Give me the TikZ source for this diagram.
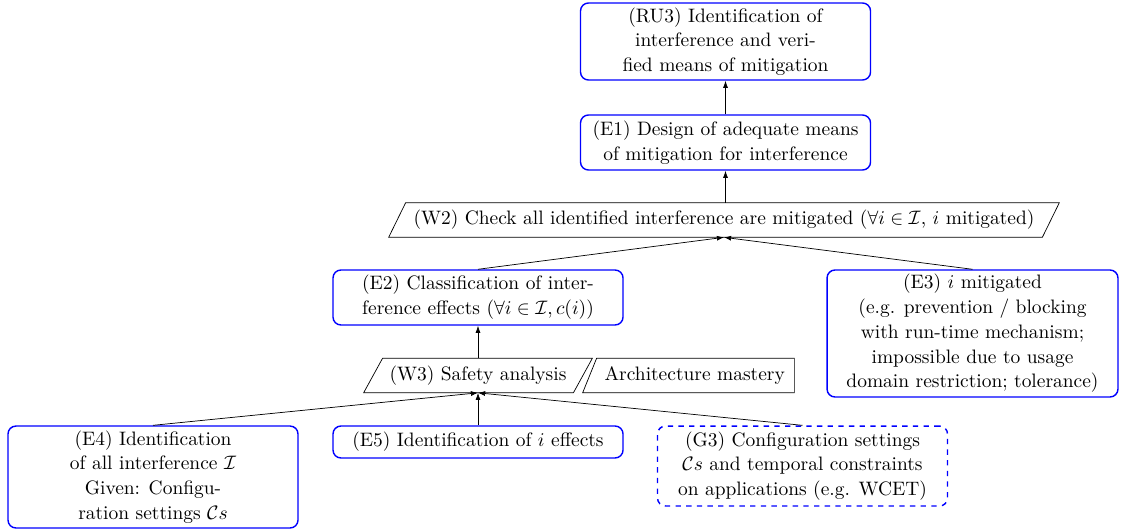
\documentclass[tikz,border=0pt]{standalone}
\usetikzlibrary{arrows.meta,calc}
\begin{document}
\begin{tikzpicture}[x=0.563pt,y=-0.563pt,
  every node/.style={font=\fontsize{10.95}{13.93}\selectfont, align=center, inner sep=0pt},
  goalbox/.style={draw=blue, thick, rounded corners=4.5pt, minimum width=163.3pt},
  ctxbox/.style={goalbox, dashed},
  plain/.style={minimum height=19.1pt},
  arr/.style={-{Latex[length=4pt,width=2.8pt]}}
]
\useasboundingbox (0,0) rectangle (1122,531);

% claims and evidence
\node[goalbox, minimum height=43.35pt] (ru3) at (725.5,41.5)
  {(RU3) Identification of\\interference and veri-\\fied means of mitigation};
\node[goalbox, minimum height=30.97pt] (e1) at (725.5,142.5)
  {(E1) Design of adequate means\\of mitigation for interference};
\node[goalbox, minimum height=30.97pt] (e2) at (478,297.5)
  {(E2) Classification of inter-\\ference effects ($\forall i \in \mathcal{I}, c(i)$)};
\node[goalbox, minimum height=71.5pt, minimum width=163.8pt] (e3) at (972.5,333.5)
  {(E3) $i$ mitigated\\(e.g. prevention / blocking\\with run-time mechanism;\\impossible due to usage\\domain restriction; tolerance)};
\node[goalbox, minimum height=57.4pt] (e4) at (153,477)
  {(E4) Identification\\of all interference $\mathcal{I}$\\Given: Configu-\\ration settings $\mathcal{C}s$};
\node[goalbox, minimum height=18pt] (e5) at (478,442)
  {(E5) Identification of $i$ effects};
\node[ctxbox, minimum height=45pt] (g3) at (802.5,466)
  {(G3) Configuration settings\\$\mathcal{C}s$ and temporal constraints\\on applications (e.g. WCET)};

% warrants (slanted boxes)
\node[plain, minimum width=377.2pt] (w2) at (724,220)
  {(W2) Check all identified interference are mitigated ($\forall i \in \mathcal{I}$, $i$ mitigated)};
\draw ($(w2.north west)+(17,0)$) -- (w2.north east) -- ($(w2.south east)-(17,0)$)
  -- (w2.south west) -- cycle;

\node[plain, minimum width=128.4pt] (w3) at (478,375.5) {(W3) Safety analysis};
\draw ($(w3.north west)+(19,0)$) -- (w3.north east) -- ($(w3.south east)-(19,0)$)
  -- (w3.south west) -- cycle;

\node[plain, minimum width=118.8pt] (arch) at (688.5,375.5) {\hspace*{7pt}Architecture mastery};
\draw ($(arch.north west)+(14,0)$) -- (arch.north east) -- (arch.south east)
  -- (arch.south west) -- cycle;

% connectors
\draw[arr] (e1.north) -- (ru3.south);
\draw[arr] (e1.south |- w2.north) -- (e1.south);
\draw[arr] (e2.north) -- (w2.south);
\draw[arr] (e3.north) -- (w2.south);
\draw[arr] (w3.north) -- (e2.south);
\draw[arr] (e4.north) -- (w3.south);
\draw[arr] (e5.north) -- (w3.south);
\draw[arr] (g3.north) -- (w3.south);
\end{tikzpicture}
\end{document}
